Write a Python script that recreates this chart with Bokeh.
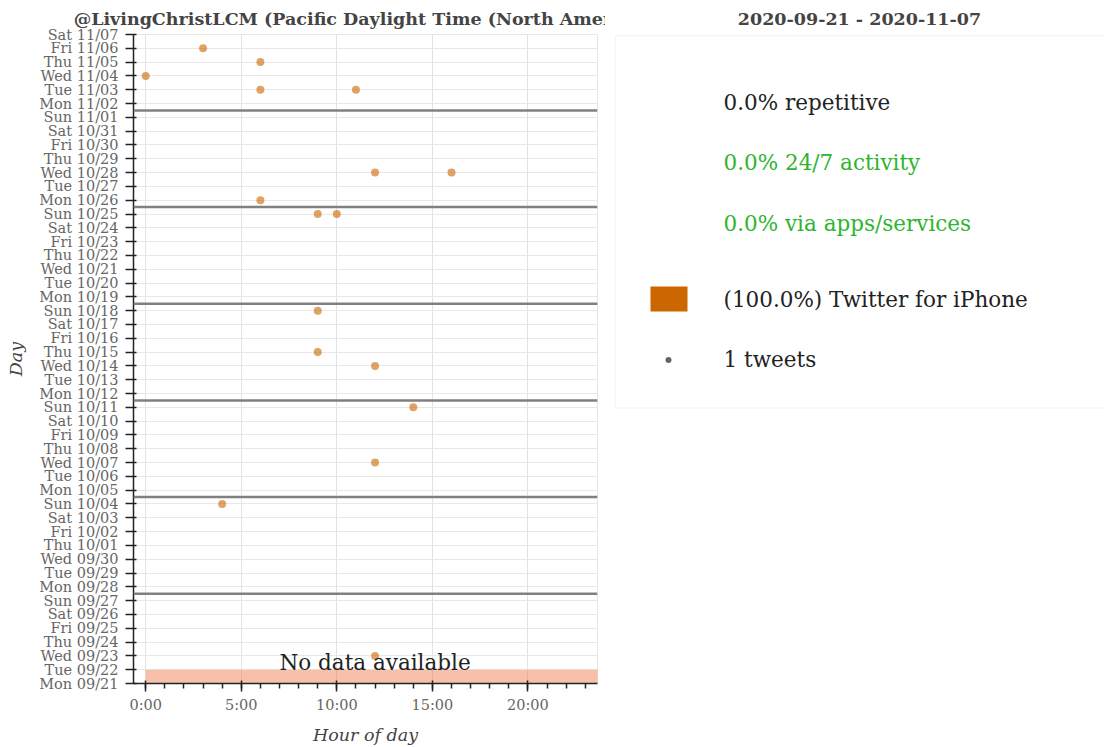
import pandas as pd
from bokeh.plotting import figure
from bokeh.models import Range1d, Span, FixedTicker, BoxAnnotation
from bokeh.layouts import row
from bokeh.embed import file_html
from bokeh.resources import INLINE
from bokeh.core.properties import value

# ---------------- data ----------------
start_date = "2020-09-21"
end_date = "2020-11-07"
account_title = "@LivingChristLCM (Pacific Daylight Time (North America))"
range_title = "2020-09-21 - 2020-11-07"

tweet_dates = ["2020-11-06", "2020-11-05", "2020-11-04", "2020-11-03", "2020-11-03",
               "2020-10-28", "2020-10-28", "2020-10-26", "2020-10-25", "2020-10-25",
               "2020-10-18", "2020-10-15", "2020-10-14", "2020-10-11", "2020-10-07",
               "2020-10-04", "2020-09-23"]
tweet_hours = [3, 6, 0, 6, 11, 12, 16, 6, 9, 10, 9, 9, 12, 14, 12, 4, 12]

no_data_dates = ["2020-09-21"]
no_data_hours = [0, 24]
no_data_text = "No data available"

hour_ticks = [0, 5, 10, 15, 20]
hour_labels = ["0:00", "5:00", "10:00", "15:00", "20:00"]
hour_minor = list(range(0, 24))

stats_labels = ["0.0% repetitive", "0.0% 24/7 activity", "0.0% via apps/services"]
stats_colors = ["#222222", "#2eb52e", "#2eb52e"]
legend_labels = ["(100.0%) Twitter for iPhone", "1 tweets"]
source_color = "#cc6600"

# ---------------- derived ----------------
days = pd.date_range(start_date, end_date, freq="D")
day_labels = [d.strftime("%a %m/%d") for d in days]
day_index = {d.strftime("%Y-%m-%d"): i for i, d in enumerate(days)}
tweet_y = [day_index[d] for d in tweet_dates]

FONT = "DejaVu Serif"
H = 747
TOP = 33
BOTTOM = 64

p = figure(width=605, height=H, x_range=Range1d(-0.64, 23.64),
           y_range=Range1d(0, len(days) - 1), output_backend="svg",
           toolbar_location=None, title=account_title,
           min_border_left=133, min_border_right=8, min_border_top=TOP,
           min_border_bottom=BOTTOM)
p.title.text_font = FONT
p.title.text_font_style = "bold"
p.title.text_font_size = "17.5px"
p.title.text_color = "#444444"
p.title.align = "center"
p.title.standoff = 12
p.outline_line_color = "#e6e6e6"

p.xaxis.ticker = FixedTicker(ticks=hour_ticks, minor_ticks=hour_minor)
p.xaxis.major_label_overrides = {t: l for t, l in zip(hour_ticks, hour_labels)}
p.yaxis.ticker = FixedTicker(ticks=list(range(len(days))), minor_ticks=[])
p.yaxis.major_label_overrides = {i: l for i, l in enumerate(day_labels)}
p.xaxis.axis_label = "Hour of day"
p.yaxis.axis_label = "Day"

for ax in (p.xaxis[0], p.yaxis[0]):
    ax.axis_line_color = "#222222"
    ax.axis_line_width = 1.5
    ax.major_tick_line_color = "#222222"
    ax.major_tick_line_width = 1.5
    ax.major_tick_out = 8
    ax.major_tick_in = 3
    ax.minor_tick_line_color = "#222222"
    ax.minor_tick_line_width = 1.5
    ax.minor_tick_out = 5
    ax.minor_tick_in = 0
    ax.major_label_text_font = FONT
    ax.major_label_text_font_size = "14.5px"
    ax.major_label_text_color = "#666666"
    ax.axis_label_text_font = FONT
    ax.axis_label_text_font_style = "italic"
    ax.axis_label_text_font_size = "17.5px"
    ax.axis_label_text_color = "#444444"
p.xaxis.major_label_standoff = 5
p.yaxis.major_label_standoff = 7
p.xaxis.axis_label_standoff = 9
p.yaxis.axis_label_standoff = 10

p.xgrid.grid_line_color = "#e3e3e3"
p.ygrid.ticker = FixedTicker(ticks=list(range(len(days))))
p.ygrid.grid_line_color = "#e8e8e8"

# no-data band
nd_y = [day_index[d] for d in no_data_dates]
p.quad(left=[no_data_hours[0]] * len(nd_y), right=[no_data_hours[1]] * len(nd_y),
       bottom=nd_y, top=[y + 1 for y in nd_y], fill_color="#f18155",
       fill_alpha=0.5, line_color=None)

# week separators (between Sunday and Monday)
for i, d in enumerate(days):
    if d.weekday() == 6 and i < len(days) - 1:
        p.add_layout(Span(location=i + 0.5, dimension="width",
                          line_color="#808080", line_width=2.5))

p.scatter(x=tweet_hours, y=tweet_y, size=8, marker="circle",
          fill_color=source_color, line_color=None, fill_alpha=0.6)

p.text(x=[sum(no_data_hours) / 2], y=[nd_y[0] + 1.5], text=[no_data_text],
       text_align="center", text_baseline="middle",
       text_font=value(FONT), text_font_size="21.5px", text_color="#222222")

# ---------------- right panel (pixel-like layout coordinates) ----------------
q_width = 499
q_left = 9
frame_w = q_width - q_left
frame_h = H - TOP - BOTTOM
q = figure(width=q_width, height=H, x_range=Range1d(0, frame_w),
           y_range=Range1d(frame_h, 0),
           output_backend="svg", toolbar_location=None, title=range_title,
           x_axis_type=None, y_axis_type=None,
           min_border_left=q_left, min_border_right=0, min_border_top=TOP,
           min_border_bottom=BOTTOM)
q.title.text_font = FONT
q.title.text_font_style = "bold"
q.title.text_font_size = "17.5px"
q.title.text_color = "#444444"
q.title.align = "center"
q.title.standoff = 12
q.grid.visible = False
q.outline_line_color = None

q.add_layout(BoxAnnotation(left=0.5, right=frame_w + 20, top=1, bottom=374,
                           fill_color=None, line_color="#e3e3e3", line_width=2))

text_x = 109
stat_y = [68 + 60.5 * i for i in range(len(stats_labels))]
q.text(x=[text_x] * len(stats_labels), y=stat_y, text=stats_labels,
       text_color=stats_colors, text_baseline="middle",
       text_font=value(FONT), text_font_size="21.5px")

leg_y = [265 + 61 * i for i in range(len(legend_labels))]
q.text(x=[text_x] * len(legend_labels), y=leg_y, text=legend_labels,
       text_color="#222222", text_baseline="middle",
       text_font=value(FONT), text_font_size="21.5px")
q.rect(x=[54.5], y=[leg_y[0]], width=37, height=25, width_units="screen",
       height_units="screen", fill_color=source_color, line_color=None)
q.scatter(x=[54], y=[leg_y[1]], size=6, marker="circle",
          fill_color="#666666", line_color=None)

layout = row(p, q)
open("out.html", "w").write(file_html(layout, INLINE))
